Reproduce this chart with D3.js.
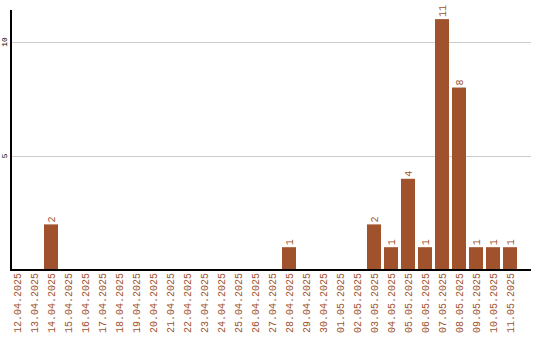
<!DOCTYPE html>
<html>
<head>
<meta charset="utf-8">
<script src="https://cdn.jsdelivr.net/npm/d3@7"></script>
<style>
  body { margin: 0; background: #fff; }
  svg { display: block; }
</style>
</head>
<body>
<svg id="chart" width="540" height="340"></svg>
<script>
"use strict"

const dates = [
    "12.04.2025", "13.04.2025", "14.04.2025", "15.04.2025", "16.04.2025",
    "17.04.2025", "18.04.2025", "19.04.2025", "20.04.2025", "21.04.2025",
    "22.04.2025", "23.04.2025", "24.04.2025", "25.04.2025", "26.04.2025",
    "27.04.2025", "28.04.2025", "29.04.2025", "30.04.2025", "01.05.2025",
    "02.05.2025", "03.05.2025", "04.05.2025", "05.05.2025", "06.05.2025",
    "07.05.2025", "08.05.2025", "09.05.2025", "10.05.2025", "11.05.2025"
]
const counts = [
    0, 0, 2, 0, 0, 0, 0, 0, 0, 0,
    0, 0, 0, 0, 0, 0, 1, 0, 0, 0,
    0, 2, 1, 4, 1, 11, 8, 1, 1, 1
]
const yTicks = [5, 10]

const barColor = "#a0522d"
const font = "'Liberation Mono', 'DejaVu Sans Mono', monospace"

const svg = d3.select("#chart")

const plotLeft = 10, plotRight = 531, plotTop = 10, plotBottom = 270

const x = d3.scaleBand()
    .domain(dates)
    .range([plotLeft, plotLeft + 17 * dates.length - 3])
    .paddingInner(3 / 17)
    .paddingOuter(0)

const y = d3.scaleLinear()
    .domain([0, 11.4])
    .range([plotBottom, plotTop])

// grid
svg.append("g")
    .selectAll("line")
    .data(yTicks)
    .join("line")
    .attr("x1", plotLeft)
    .attr("x2", plotRight)
    .attr("y1", d => Math.round(y(d)) + 0.5)
    .attr("y2", d => Math.round(y(d)) + 0.5)
    .attr("stroke", "#cccccc")
    .attr("stroke-width", 1)

// y tick labels
svg.append("g")
    .selectAll("text")
    .data(yTicks)
    .join("text")
    .attr("transform", d => `translate(4,${y(d)}) rotate(-90)`)
    .attr("dy", "0.35em")
    .attr("text-anchor", "middle")
    .attr("font-family", font)
    .attr("font-size", 8)
    .attr("fill", "#000")
    .text(d => d)

// bars
const data = dates.map((d, i) => ({ date: d, value: counts[i] }))

svg.append("g")
    .selectAll("rect")
    .data(data.filter(d => d.value > 0))
    .join("rect")
    .attr("x", d => x(d.date))
    .attr("y", d => y(d.value))
    .attr("width", x.bandwidth())
    .attr("height", d => y(0) - y(d.value))
    .attr("fill", barColor)

// value labels
svg.append("g")
    .selectAll("text")
    .data(data.filter(d => d.value > 0))
    .join("text")
    .attr("transform", d => `translate(${x(d.date) + x.bandwidth() / 2},${y(d.value) - 2}) rotate(-90)`)
    .attr("dy", "0.35em")
    .attr("font-family", font)
    .attr("font-size", 10)
    .attr("fill", barColor)
    .text(d => d.value)

// x labels
svg.append("g")
    .selectAll("text")
    .data(dates)
    .join("text")
    .attr("transform", d => `translate(${x(d) + x.bandwidth() / 2},${plotBottom + 3}) rotate(-90)`)
    .attr("dy", "0.35em")
    .attr("text-anchor", "end")
    .attr("font-family", font)
    .attr("font-size", 10)
    .attr("fill", barColor)
    .text(d => d)

// axes lines
svg.append("line")
    .attr("x1", plotLeft + 1).attr("x2", plotLeft + 1)
    .attr("y1", plotTop).attr("y2", plotBottom + 1)
    .attr("stroke", "#000").attr("stroke-width", 2)

svg.append("line")
    .attr("x1", plotLeft).attr("x2", plotRight)
    .attr("y1", plotBottom).attr("y2", plotBottom)
    .attr("stroke", "#000").attr("stroke-width", 2)
</script>
</body>
</html>
